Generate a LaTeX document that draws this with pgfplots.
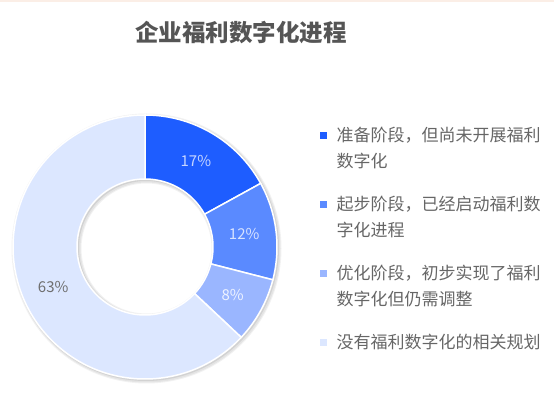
\documentclass[border=0pt]{standalone}
\usepackage{pgfplots}
\pgfplotsset{compat=1.18}
\usepackage{pgfplotstable}
\usepackage{fontspec}
\setmainfont{Noto Sans CJK SC}

\definecolor{slice0}{HTML}{1E5DFF}
\definecolor{slice1}{HTML}{5A8AFF}
\definecolor{slice2}{HTML}{9AB6FF}
\definecolor{slice3}{HTML}{DCE7FF}
\definecolor{lab0}{HTML}{C6D5FF}
\definecolor{lab1}{HTML}{D8E3FF}
\definecolor{lab2}{HTML}{EEF3FF}
\definecolor{lab3}{HTML}{6E6E6E}
\definecolor{titlegray}{HTML}{555555}
\definecolor{textgray}{HTML}{666666}
\definecolor{peach}{HTML}{FBEEE6}

% share of each stage, in percent
\pgfplotstableread{
val
17
12
8
63
}\piedata

% start, end and middle angle of each slice (clockwise from the top)
\def\curangle{90}
\pgfplotsforeachungrouped \i in {0,...,3}{%
  \pgfplotstablegetelem{\i}{val}\of\piedata
  \pgfmathsetmacro\nextangle{\curangle-3.6*\pgfplotsretval}
  \pgfmathsetmacro\midangle{(\curangle+\nextangle)/2}
  \expandafter\xdef\csname sa\i\endcsname{\curangle}
  \expandafter\xdef\csname ea\i\endcsname{\nextangle}
  \expandafter\xdef\csname ma\i\endcsname{\midangle}
  \expandafter\xdef\csname pv\i\endcsname{\pgfplotsretval}
  \global\let\curangle\nextangle
}

% two-line legend text, aligned on its first line
\newcommand\twolines[2]{\vtop{\hbox{#1}\hbox{#2}}}

\begin{document}
\begin{tikzpicture}
\useasboundingbox (0,0) rectangle (554bp,402bp);
\begin{axis}[
  width=554bp, height=402bp, scale only axis,
  xmin=0, xmax=554, ymin=0, ymax=402,
  hide axis, clip=false,
  legend style={at={(axis cs:320,277)}, anchor=north west,
    draw=none, fill=none, inner sep=0pt,
    font=\fontsize{17bp}{26bp}\selectfont, text=textgray,
    row sep=49bp,
    /tikz/every odd column/.append style={column sep=8bp}},
]
\fill[peach] (axis cs:0,400) rectangle (axis cs:554,402);
\node[font=\bfseries\fontsize{23.5bp}{28bp}\selectfont, text=titlegray]
  at (axis cs:241,369) {企业福利数字化进程};

% soft shadow round the ring
\fill[black, opacity=0.05, even odd rule] ([xshift=1.5bp,yshift=-1.5bp]axis cs:145,155) circle[radius=135bp] circle[radius=65bp];
\fill[black, opacity=0.06, even odd rule] ([xshift=1.5bp,yshift=-1.5bp]axis cs:145,155) circle[radius=134bp] circle[radius=66bp];
\fill[black, opacity=0.08, even odd rule] ([xshift=1bp,yshift=-1bp]axis cs:145,155) circle[radius=133bp] circle[radius=67bp];

\pgfplotsinvokeforeach{0,...,3}{
  \fill[slice#1, draw=white, line width=1.5bp]
    ([shift={(\csname sa#1\endcsname:132bp)}]axis cs:145,155)
    arc[start angle=\csname sa#1\endcsname, end angle=\csname ea#1\endcsname, radius=132bp]
    -- ([shift={(\csname ea#1\endcsname:68bp)}]axis cs:145,155)
    arc[start angle=\csname ea#1\endcsname, end angle=\csname sa#1\endcsname, radius=68bp]
    -- cycle;
  \node[text=lab#1, font=\fontsize{15bp}{18bp}\selectfont]
    at ([shift={(\csname ma#1\endcsname:100bp)}]axis cs:145,155) {\csname pv#1\endcsname\%};
}

\addlegendimage{legend image code/.code={\fill[slice0] (0bp,-3bp) rectangle (6bp,3bp);}}
\addlegendentry{\twolines{准备阶段，但尚未开展福利}{数字化}}
\addlegendimage{legend image code/.code={\fill[slice1] (0bp,-3bp) rectangle (6bp,3bp);}}
\addlegendentry{\twolines{起步阶段，已经启动福利数}{字化进程}}
\addlegendimage{legend image code/.code={\fill[slice2] (0bp,-3bp) rectangle (6bp,3bp);}}
\addlegendentry{\twolines{优化阶段，初步实现了福利}{数字化但仍需调整}}
\addlegendimage{legend image code/.code={\fill[slice3] (0bp,-3bp) rectangle (6bp,3bp);}}
\addlegendentry{没有福利数字化的相关规划}
\end{axis}
\end{tikzpicture}
\end{document}
